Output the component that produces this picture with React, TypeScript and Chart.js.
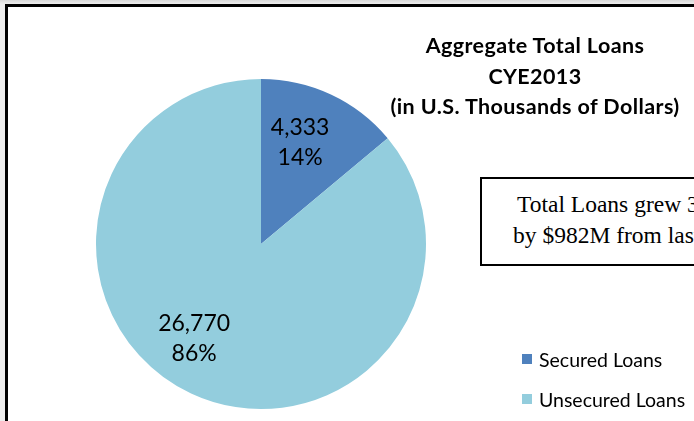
import React, { useEffect, useRef } from "react";
import { Chart, registerables } from "chart.js";

Chart.register(...registerables);

const categories = ["Secured Loans", "Unsecured Loans"];
const loanValues = [4333, 26770];
const sliceColors = ["#4F81BD", "#93CDDD"];
const titleLines = ["Aggregate Total Loans", "CYE2013", "(in U.S. Thousands of Dollars)"];
const noteLines = ["Total Loans grew 3.3%", "by $982M from last year"];

const LABEL_FONT = "Lato, 'Open Sans', sans-serif";

const dataLabelPlugin = {
  id: "dataLabels",
  afterDatasetsDraw(chart: any) {
    const ctx = chart.ctx;
    const meta = chart.getDatasetMeta(0);
    const data = chart.data.datasets[0].data as number[];
    const total = data.reduce((a, b) => a + b, 0);
    const nudges = [
      { r: 0.66, da: -0.07 },
      { r: 0.7, da: 0.18 },
    ];
    ctx.save();
    ctx.fillStyle = "#000";
    ctx.font = `23px ${LABEL_FONT}`;
    ctx.textAlign = "center";
    ctx.textBaseline = "middle";
    meta.data.forEach((arc: any, i: number) => {
      const { x, y, startAngle, endAngle, outerRadius } = arc.getProps(
        ["x", "y", "startAngle", "endAngle", "outerRadius"],
        true
      );
      const mid = (startAngle + endAngle) / 2 + nudges[i].da;
      const r = outerRadius * nudges[i].r;
      const cx = x + Math.cos(mid) * r;
      const cy = y + Math.sin(mid) * r;
      const v = data[i];
      const pct = Math.round((v / total) * 100);
      ctx.fillText(v.toLocaleString("en-US"), cx, cy - 15);
      ctx.fillText(`${pct}%`, cx, cy + 15);
    });
    ctx.restore();
  },
};

export default function App() {
  const canvasRef = useRef<HTMLCanvasElement>(null);

  useEffect(() => {
    if (!canvasRef.current) return;
    const chart = new Chart(canvasRef.current, {
      type: "pie",
      data: {
        labels: categories,
        datasets: [
          {
            data: loanValues,
            backgroundColor: sliceColors,
            borderWidth: 0,
          },
        ],
      },
      options: {
        responsive: false,
        animation: false,
        layout: { padding: { left: 96, right: 268, top: 79, bottom: 12 } },
        plugins: {
          legend: { display: false },
          tooltip: { enabled: false },
          title: { display: false },
        },
      },
      plugins: [dataLabelPlugin],
    });
    return () => chart.destroy();
  }, []);

  return (
    <div
      style={{
        position: "fixed",
        left: 0,
        top: 0,
        width: 694,
        height: 421,
        overflow: "hidden",
        background: "linear-gradient(#d8d8d8, #ededed 4px)",
      }}
    >
      <div
        style={{
          position: "absolute",
          left: 5,
          top: 4,
          width: 720,
          height: 440,
          borderLeft: "3px solid #000",
          borderTop: "3px solid #000",
          background: "#fff",
        }}
      />
      <canvas
        ref={canvasRef}
        width={694}
        height={421}
        style={{ position: "absolute", left: 0, top: 0 }}
      />
      <div
        style={{
          position: "absolute",
          left: 375,
          top: 30,
          width: 320,
          textAlign: "center",
          fontFamily: LABEL_FONT,
          fontWeight: 700,
          fontSize: 21.5,
          letterSpacing: "0.4px",
          lineHeight: "30.5px",
          color: "#000",
          whiteSpace: "nowrap",
        }}
      >
        {titleLines.map((t) => (
          <div key={t}>{t}</div>
        ))}
      </div>
      <div
        style={{
          position: "absolute",
          left: 480,
          top: 177,
          width: 300,
          height: 89,
          border: "2px solid #000",
          background: "#fff",
          fontFamily: "'Liberation Serif', 'Times New Roman', serif",
          fontSize: 23.5,
          lineHeight: "31px",
          textAlign: "left",
          whiteSpace: "nowrap",
          paddingTop: 10,
          boxSizing: "border-box",
        }}
      >
        {noteLines.map((t, i) => (
          <div key={t} style={{ marginLeft: i === 0 ? 35 : 31 }}>
            {t}
          </div>
        ))}
      </div>
      <div
        style={{
          position: "absolute",
          left: 522,
          top: 345,
          fontFamily: LABEL_FONT,
          fontSize: 19.5,
          color: "#000",
        }}
      >
        {categories.map((c, i) => (
          <div
            key={c}
            style={{ display: "flex", alignItems: "center", height: 28, marginBottom: 12 }}
          >
            <span
              style={{
                display: "inline-block",
                width: 10,
                height: 10,
                background: sliceColors[i],
                marginRight: 7,
              }}
            />
            <span style={{ whiteSpace: "nowrap" }}>{c}</span>
          </div>
        ))}
      </div>
    </div>
  );
}
